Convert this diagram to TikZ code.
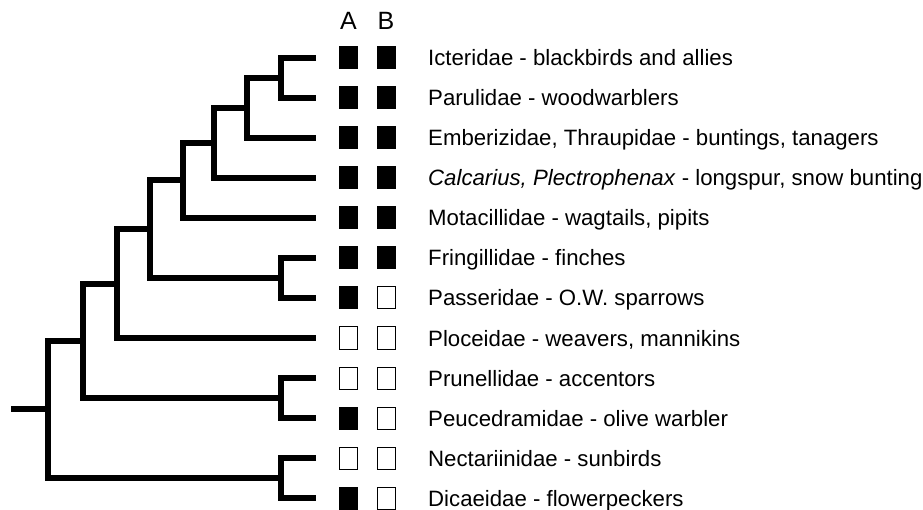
\documentclass[tikz,border=0pt]{standalone}
\usepackage{fontspec}
\setmainfont{Liberation Sans}
\usepackage{tikz}
\usetikzlibrary{positioning, calc}
\definecolor{inkblack}{HTML}{000000}
\tikzstyle{branch} = [line width=6pt, draw=inkblack]
\tikzstyle{present} = [rectangle, minimum width=19pt, minimum height=23pt, inner sep=0pt, fill=inkblack, draw=none]
\tikzstyle{absent} = [rectangle, minimum width=18pt, minimum height=22pt, inner sep=0pt, fill=white, draw=inkblack, line width=1pt]
\tikzstyle{taxon} = [anchor=base west, inner sep=0pt, font=\fontsize{22.2}{26}\selectfont]
\tikzstyle{colhead} = [anchor=base, inner sep=0pt, font=\fontsize{25}{30}\selectfont]

\begin{document}
\begin{tikzpicture}[x=1pt, y=-1pt]
    \useasboundingbox (0,0) rectangle (923,510);

    \node[colhead] (headA) at (348.5,30) {A};
    \node[colhead] (headB) at (386,30) {B};

    \foreach \i/\a/\b/\txt in {
        1/present/present/{Icteridae - blackbirds and allies},
        2/present/present/{Parulidae - woodwarblers},
        3/present/present/{Emberizidae, Thraupidae - buntings, tanagers},
        4/present/present/{\textit{Calcarius, Plectrophenax} - longspur, snow bunting},
        5/present/present/{Motacillidae - wagtails, pipits},
        6/present/present/{Fringillidae - finches},
        7/present/absent/{Passeridae - O.W. sparrows},
        8/absent/absent/{Ploceidae - weavers, mannikins},
        9/absent/absent/{Prunellidae - accentors},
        10/present/absent/{Peucedramidae - olive warbler},
        11/absent/absent/{Nectariinidae - sunbirds},
        12/present/absent/{Dicaeidae - flowerpeckers}} {
        \coordinate (l\i) at (316,{18+40*\i});
        \node[\a] (a\i) at (348.5,{18+40*\i}) {};
        \node[\b] (b\i) at (386,{18+40*\i}) {};
        \node[taxon] (t\i) at (428,{26+40*\i}) {\txt};
    }

    % internal nodes of the tree
    \coordinate (n12) at (281,78);
    \coordinate (n123) at (247,108);
    \coordinate (n1234) at (214,143);
    \coordinate (n5) at (183,180.5);
    \coordinate (n67) at (281,278);
    \coordinate (n7) at (150,229.25);
    \coordinate (n8) at (117,283.6);
    \coordinate (n910) at (281,398);
    \coordinate (n9) at (83,340.8);
    \coordinate (n1112) at (281,478);
    \coordinate (root) at (48,409.4);
    \coordinate (stub) at (11,409.4);

    \draw[branch] (l1) -| (n12) |- (l2);
    \draw[branch] (n12) -| (n123) |- (l3);
    \draw[branch] (n123) -| (n1234) |- (l4);
    \draw[branch] (n1234) -| (n5) |- (l5);
    \draw[branch] (l6) -| (n67) |- (l7);
    \draw[branch] (n5) -| (n7) |- (n67);
    \draw[branch] (n7) -| (n8) |- (l8);
    \draw[branch] (l9) -| (n910) |- (l10);
    \draw[branch] (n8) -| (n9) |- (n910);
    \draw[branch] (l11) -| (n1112) |- (l12);
    \draw[branch] (n9) -| (root) |- (n1112);
    \draw[branch] (stub) -- (root);
\end{tikzpicture}
\end{document}
